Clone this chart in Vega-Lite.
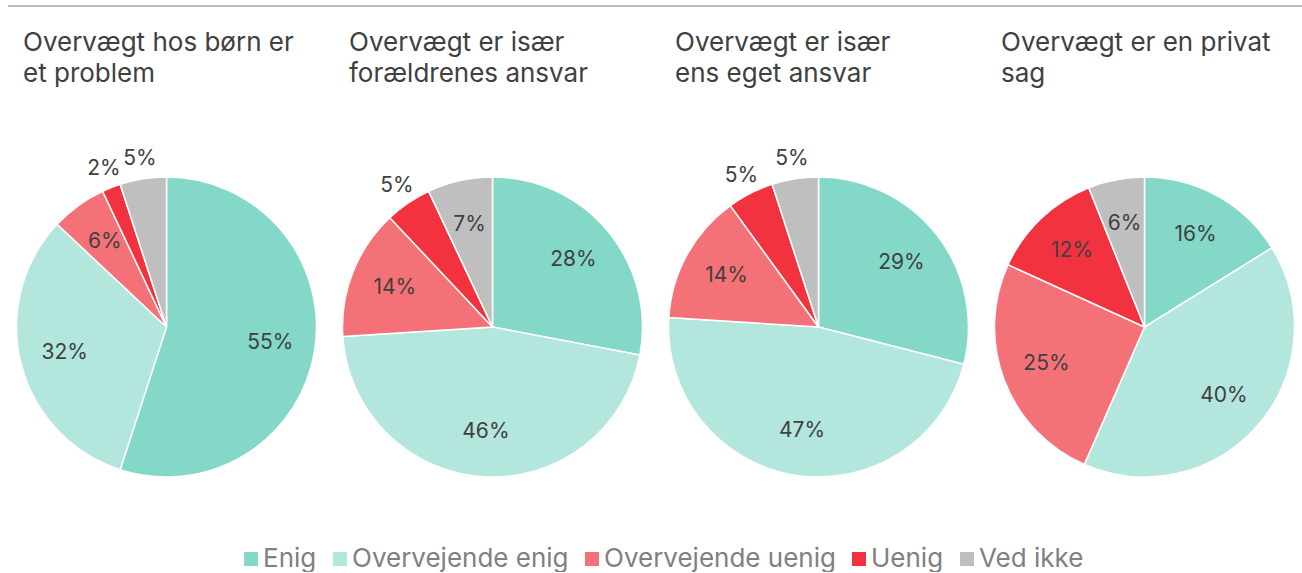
{
  "$schema": "https://vega.github.io/schema/vega-lite/v6.json",
  "background": "white",
  "padding": {"left": 7, "top": 5, "right": 0, "bottom": 0},
  "autosize": {"type": "pad"},
  "datasets": {
    "pies": [
      {"chart": "c1", "svar": "Enig", "value": 0.55},
      {"chart": "c1", "svar": "Overvejende enig", "value": 0.32},
      {"chart": "c1", "svar": "Overvejende uenig", "value": 0.06},
      {"chart": "c1", "svar": "Uenig", "value": 0.02},
      {"chart": "c1", "svar": "Ved ikke", "value": 0.05},
      {"chart": "c2", "svar": "Enig", "value": 0.28},
      {"chart": "c2", "svar": "Overvejende enig", "value": 0.46},
      {"chart": "c2", "svar": "Overvejende uenig", "value": 0.14},
      {"chart": "c2", "svar": "Uenig", "value": 0.05},
      {"chart": "c2", "svar": "Ved ikke", "value": 0.07},
      {"chart": "c3", "svar": "Enig", "value": 0.29},
      {"chart": "c3", "svar": "Overvejende enig", "value": 0.47},
      {"chart": "c3", "svar": "Overvejende uenig", "value": 0.14},
      {"chart": "c3", "svar": "Uenig", "value": 0.05},
      {"chart": "c3", "svar": "Ved ikke", "value": 0.05},
      {"chart": "c4", "svar": "Enig", "value": 0.16},
      {"chart": "c4", "svar": "Overvejende enig", "value": 0.40},
      {"chart": "c4", "svar": "Overvejende uenig", "value": 0.25},
      {"chart": "c4", "svar": "Uenig", "value": 0.12},
      {"chart": "c4", "svar": "Ved ikke", "value": 0.06}
    ]
  },
  "vconcat": [
    {
      "width": 1295,
      "height": 2,
      "data": {"values": [{}]},
      "mark": {"type": "rule", "color": "#a6a6a6", "strokeWidth": 1.5},
      "encoding": {"y": {"value": 1}}
    },
    {
      "hconcat": [
        {
          "width": 317, "height": 370,
          "title": {"text": ["Overvægt hos børn er", "et problem"]},
          "data": {"name": "pies"},
          "transform": [{"filter": "datum.chart == 'c1'"}],
          "layer": [
            {"mark": {"type": "arc", "outerRadius": 150, "stroke": "white", "strokeWidth": 1.5},
             "encoding": {"theta": {"field": "value", "type": "quantitative", "stack": true}, "order": {"field": "svar", "sort": "ascending"}, "color": {"field": "svar", "type": "nominal"}}},
            {"mark": {"type": "text"},
             "encoding": {"theta": {"field": "value", "type": "quantitative", "stack": true}, "order": {"field": "svar", "sort": "ascending"}, "detail": {"field": "svar"},
               "radius": {"field": "value", "type": "quantitative", "scale": {"type": "linear", "zero": false, "clamp": true, "domain": [0.05, 0.06], "range": [170, 105]}},
               "text": {"field": "value", "type": "quantitative", "format": ".0%"}}}
          ]
        },
        {
          "width": 317, "height": 370,
          "title": {"text": ["Overvægt er især", "forældrenes ansvar"]},
          "data": {"name": "pies"},
          "transform": [{"filter": "datum.chart == 'c2'"}],
          "layer": [
            {"mark": {"type": "arc", "outerRadius": 150, "stroke": "white", "strokeWidth": 1.5},
             "encoding": {"theta": {"field": "value", "type": "quantitative", "stack": true}, "order": {"field": "svar", "sort": "ascending"}, "color": {"field": "svar", "type": "nominal"}}},
            {"mark": {"type": "text"},
             "encoding": {"theta": {"field": "value", "type": "quantitative", "stack": true}, "order": {"field": "svar", "sort": "ascending"}, "detail": {"field": "svar"},
               "radius": {"field": "value", "type": "quantitative", "scale": {"type": "linear", "zero": false, "clamp": true, "domain": [0.05, 0.06], "range": [170, 105]}},
               "text": {"field": "value", "type": "quantitative", "format": ".0%"}}}
          ]
        },
        {
          "width": 317, "height": 370,
          "title": {"text": ["Overvægt er især", "ens eget ansvar"]},
          "data": {"name": "pies"},
          "transform": [{"filter": "datum.chart == 'c3'"}],
          "layer": [
            {"mark": {"type": "arc", "outerRadius": 150, "stroke": "white", "strokeWidth": 1.5},
             "encoding": {"theta": {"field": "value", "type": "quantitative", "stack": true}, "order": {"field": "svar", "sort": "ascending"}, "color": {"field": "svar", "type": "nominal"}}},
            {"mark": {"type": "text"},
             "encoding": {"theta": {"field": "value", "type": "quantitative", "stack": true}, "order": {"field": "svar", "sort": "ascending"}, "detail": {"field": "svar"},
               "radius": {"field": "value", "type": "quantitative", "scale": {"type": "linear", "zero": false, "clamp": true, "domain": [0.05, 0.06], "range": [170, 105]}},
               "text": {"field": "value", "type": "quantitative", "format": ".0%"}}}
          ]
        },
        {
          "width": 317, "height": 370,
          "title": {"text": ["Overvægt er en privat", "sag"]},
          "data": {"name": "pies"},
          "transform": [{"filter": "datum.chart == 'c4'"}],
          "layer": [
            {"mark": {"type": "arc", "outerRadius": 150, "stroke": "white", "strokeWidth": 1.5},
             "encoding": {"theta": {"field": "value", "type": "quantitative", "stack": true}, "order": {"field": "svar", "sort": "ascending"}, "color": {"field": "svar", "type": "nominal"}}},
            {"mark": {"type": "text"},
             "encoding": {"theta": {"field": "value", "type": "quantitative", "stack": true}, "order": {"field": "svar", "sort": "ascending"}, "detail": {"field": "svar"},
               "radius": {"field": "value", "type": "quantitative", "scale": {"type": "linear", "zero": false, "clamp": true, "domain": [0.05, 0.06], "range": [170, 105]}},
               "text": {"field": "value", "type": "quantitative", "format": ".0%"}}}
          ]
        }
      ],
      "spacing": 9
    }
  ],
  "spacing": 23,
  "resolve": {"scale": {"color": "shared"}},
  "config": {
    "view": {"stroke": null},
    "font": "Inter",
    "range": {"category": ["#84D8C7", "#B3E6DD", "#F57178", "#F2333F", "#BFBFBF"]},
    "text": {"font": "Inter", "fontSize": 21, "color": "#404040"},
    "title": {"font": "Inter", "fontSize": 26, "fontWeight": "normal", "color": "#404040", "anchor": "start", "frame": "group", "dx": 15, "lineHeight": 31, "offset": 55},
    "legend": {
      "orient": "none", "legendX": 230, "legendY": 541, "direction": "horizontal", "title": null,
      "labelFont": "Inter", "labelFontSize": 26, "labelColor": "#808080", "labelLimit": 400,
      "symbolType": "square", "symbolSize": 196, "symbolStrokeWidth": 0,
      "labelOffset": -1, "columnPadding": 10, "padding": 0
    }
  }
}
